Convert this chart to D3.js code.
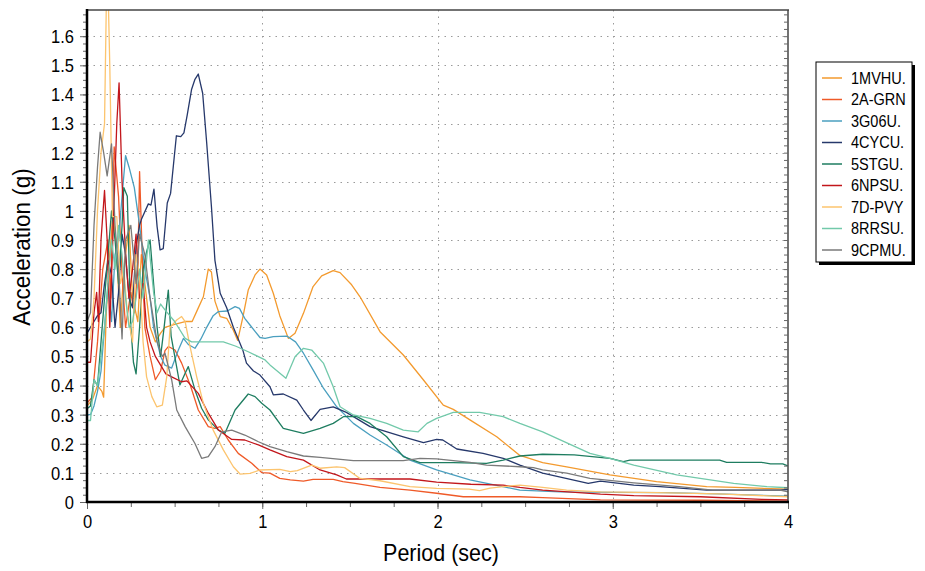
<!DOCTYPE html>
<html>
<head>
<meta charset="utf-8">
<script src="https://cdn.jsdelivr.net/npm/d3@7"></script>
<style>
  html, body { margin: 0; padding: 0; background: #fff; }
  svg { display: block; font-family: "Liberation Sans", Arial, sans-serif; }
</style>
</head>
<body>
<svg id="chart" width="925" height="571"></svg>
<script>
// ---------- DATA ----------
const seriesNames = ["1MVHU.", "2A-GRN", "3G06U.", "4CYCU.", "5STGU.", "6NPSU.", "7D-PVY", "8RRSU.", "9CPMU."];
const seriesColors = ["#f39a2e", "#ef5a28", "#4a9fbf", "#26386b", "#1e7d60", "#c2161b", "#fcc46e", "#72c9aa", "#7a7a7a"];

const xTicks = [0, 1, 2, 3, 4];
const yTicks = [0, 0.1, 0.2, 0.3, 0.4, 0.5, 0.6, 0.7, 0.8, 0.9, 1, 1.1, 1.2, 1.3, 1.4, 1.5, 1.6];
const xDomain = [0, 4];
const yDomain = [0, 1.69];

const s1MVHU = [[0,0.33],[0.03,0.35],[0.06,0.40],[0.085,0.38],[0.095,0.36],[0.11,0.65],[0.13,0.85],[0.15,1.0],[0.17,0.85],[0.19,0.6],[0.21,0.8],[0.24,0.95],[0.26,0.7],[0.29,0.62],[0.31,0.85],[0.33,0.75],[0.36,0.6],[0.39,0.55],[0.42,0.58],[0.445,0.6],[0.50,0.61],[0.56,0.62],[0.60,0.62],[0.63,0.66],[0.664,0.705],[0.692,0.80],[0.71,0.79],[0.73,0.69],[0.76,0.637],[0.797,0.631],[0.835,0.59],[0.86,0.555],[0.89,0.637],[0.92,0.728],[0.959,0.78],[0.987,0.80],[1.025,0.78],[1.063,0.717],[1.10,0.64],[1.149,0.562],[1.187,0.58],[1.235,0.648],[1.29,0.74],[1.339,0.777],[1.405,0.795],[1.444,0.788],[1.51,0.746],[1.558,0.705],[1.672,0.585],[1.805,0.505],[1.92,0.419],[2.033,0.333],[2.09,0.318],[2.185,0.282],[2.338,0.224],[2.47,0.16],[2.60,0.135],[2.737,0.121],[2.984,0.093],[3.25,0.07],[3.536,0.053],[3.7,0.05],[4.0,0.044]];
const s2AGRN = [[0,0.34],[0.03,0.36],[0.06,0.55],[0.09,0.8],[0.12,0.9],[0.135,0.7],[0.155,1.22],[0.18,1.05],[0.2,0.78],[0.22,0.6],[0.25,0.72],[0.27,0.65],[0.29,0.8],[0.30,1.135],[0.315,0.85],[0.33,0.6],[0.36,0.5],[0.39,0.42],[0.42,0.45],[0.445,0.52],[0.464,0.534],[0.502,0.522],[0.54,0.477],[0.59,0.40],[0.635,0.316],[0.692,0.259],[0.73,0.253],[0.76,0.259],[0.806,0.213],[0.863,0.167],[0.94,0.133],[0.997,0.101],[1.044,0.099],[1.10,0.081],[1.16,0.076],[1.235,0.072],[1.29,0.078],[1.405,0.078],[1.46,0.07],[1.53,0.064],[1.672,0.05],[1.843,0.041],[1.995,0.03],[2.147,0.018],[2.47,0.018],[2.6,0.015],[2.93,0.007],[3.5,0.006],[4.0,0.003]];
const s3G06U = [[0,0.30],[0.02,0.30],[0.04,0.33],[0.06,0.38],[0.08,0.45],[0.1,0.6],[0.12,0.75],[0.14,0.62],[0.16,0.85],[0.18,0.9],[0.2,1.05],[0.22,1.19],[0.24,1.15],[0.27,1.08],[0.3,0.95],[0.33,0.8],[0.36,0.7],[0.38,0.6],[0.4,0.55],[0.42,0.5],[0.445,0.47],[0.483,0.46],[0.52,0.52],[0.55,0.562],[0.58,0.54],[0.616,0.528],[0.65,0.56],[0.683,0.60],[0.72,0.64],[0.75,0.654],[0.80,0.656],[0.845,0.671],[0.87,0.665],[0.9,0.631],[0.93,0.608],[0.96,0.585],[0.987,0.565],[1.016,0.562],[1.063,0.568],[1.14,0.57],[1.19,0.55],[1.235,0.511],[1.29,0.454],[1.35,0.39],[1.425,0.327],[1.52,0.27],[1.615,0.23],[1.71,0.196],[1.843,0.144],[1.995,0.11],[2.185,0.076],[2.47,0.041],[2.7,0.035],[3.0,0.033],[3.3,0.032],[3.6,0.028],[4.0,0.02]];
const s4CYCU = [[0,0.58],[0.02,0.60],[0.04,0.62],[0.06,0.64],[0.08,0.65],[0.1,0.75],[0.12,0.83],[0.14,0.78],[0.16,0.6],[0.18,0.72],[0.2,0.92],[0.22,0.85],[0.24,0.7],[0.26,0.667],[0.28,0.88],[0.30,0.95],[0.31,0.97],[0.35,1.024],[0.365,1.02],[0.382,1.075],[0.40,0.946],[0.417,0.866],[0.435,0.87],[0.458,1.027],[0.477,1.06],[0.51,1.258],[0.535,1.255],[0.553,1.268],[0.572,1.33],[0.597,1.418],[0.616,1.452],[0.635,1.47],[0.66,1.404],[0.683,1.233],[0.71,1.015],[0.73,0.83],[0.76,0.717],[0.797,0.667],[0.835,0.60],[0.89,0.52],[0.91,0.477],[0.95,0.45],[0.987,0.436],[1.044,0.396],[1.063,0.368],[1.12,0.371],[1.197,0.35],[1.235,0.316],[1.278,0.28],[1.33,0.318],[1.405,0.327],[1.48,0.308],[1.615,0.259],[1.805,0.224],[1.92,0.204],[1.995,0.215],[2.03,0.213],[2.11,0.182],[2.26,0.167],[2.375,0.15],[2.47,0.127],[2.60,0.099],[2.86,0.064],[2.93,0.072],[3.12,0.058],[3.27,0.053],[3.536,0.041],[3.955,0.041],[4.0,0.043]];
const s5STGU = [[0,0.32],[0.02,0.33],[0.04,0.42],[0.06,0.40],[0.08,0.55],[0.1,0.7],[0.12,0.85],[0.14,1.0],[0.16,0.9],[0.18,0.75],[0.2,0.95],[0.21,1.08],[0.23,1.05],[0.25,0.6],[0.265,0.48],[0.28,0.44],[0.30,0.6],[0.32,0.8],[0.34,0.86],[0.36,0.9],[0.38,0.75],[0.40,0.6],[0.42,0.5],[0.44,0.6],[0.464,0.728],[0.48,0.57],[0.53,0.402],[0.56,0.442],[0.578,0.465],[0.616,0.385],[0.654,0.322],[0.692,0.282],[0.75,0.247],[0.787,0.236],[0.845,0.316],[0.92,0.371],[0.959,0.362],[0.997,0.339],[1.044,0.316],[1.12,0.253],[1.235,0.236],[1.33,0.253],[1.405,0.27],[1.463,0.293],[1.54,0.293],[1.615,0.27],[1.71,0.224],[1.805,0.156],[1.9,0.135],[2.09,0.135],[2.28,0.133],[2.375,0.144],[2.47,0.158],[2.6,0.164],[2.78,0.162],[2.984,0.15],[3.06,0.139],[3.098,0.144],[3.61,0.144],[3.65,0.136],[3.85,0.136],[3.9,0.131],[3.97,0.131],[4.0,0.124]];
const s6NPSU = [[0,0.48],[0.02,0.48],[0.04,0.65],[0.055,0.72],[0.065,0.62],[0.08,0.9],[0.1,1.07],[0.115,0.9],[0.13,0.6],[0.15,0.95],[0.17,1.3],[0.183,1.44],[0.2,1.1],[0.22,0.85],[0.24,0.7],[0.26,0.8],[0.28,0.92],[0.3,0.7],[0.32,0.75],[0.34,0.6],[0.36,0.55],[0.39,0.5],[0.42,0.47],[0.45,0.44],[0.483,0.43],[0.54,0.413],[0.57,0.416],[0.635,0.373],[0.692,0.305],[0.75,0.247],[0.826,0.215],[0.9,0.213],[0.978,0.196],[1.044,0.179],[1.14,0.156],[1.235,0.144],[1.33,0.11],[1.425,0.093],[1.48,0.079],[1.843,0.079],[1.995,0.068],[2.19,0.061],[2.375,0.058],[2.47,0.05],[2.6,0.041],[2.93,0.027],[3.12,0.022],[3.5,0.018],[3.85,0.009],[4.0,0.007]];
const s7DPVY = [[0,0.55],[0.02,0.56],[0.04,0.7],[0.06,1.0],[0.08,1.2],[0.1,1.3],[0.115,1.9],[0.13,1.5],[0.145,0.98],[0.17,0.98],[0.19,0.75],[0.21,0.8],[0.23,0.65],[0.26,0.55],[0.28,0.85],[0.3,0.78],[0.32,0.55],[0.34,0.43],[0.37,0.362],[0.398,0.327],[0.43,0.333],[0.455,0.43],[0.474,0.60],[0.512,0.625],[0.54,0.637],[0.56,0.62],[0.588,0.534],[0.626,0.43],[0.664,0.339],[0.72,0.247],[0.778,0.179],[0.835,0.121],[0.873,0.096],[0.93,0.098],[0.987,0.11],[1.10,0.112],[1.16,0.104],[1.2,0.108],[1.282,0.127],[1.33,0.116],[1.425,0.121],[1.47,0.118],[1.558,0.081],[1.672,0.073],[1.843,0.053],[1.995,0.047],[2.18,0.044],[2.24,0.039],[2.3,0.048],[2.375,0.053],[2.47,0.058],[2.6,0.05],[2.737,0.041],[2.93,0.035],[3.25,0.032],[3.6,0.028],[4.0,0.018]];
const s8RRSU = [[0,0.28],[0.02,0.28],[0.04,0.42],[0.06,0.40],[0.08,0.5],[0.1,0.6],[0.12,0.75],[0.14,0.9],[0.16,0.8],[0.18,0.95],[0.2,0.85],[0.22,0.7],[0.24,0.6],[0.26,0.62],[0.28,0.7],[0.3,0.8],[0.32,0.7],[0.35,0.9],[0.38,0.72],[0.4,0.65],[0.42,0.68],[0.445,0.66],[0.5,0.62],[0.56,0.562],[0.597,0.55],[0.70,0.55],[0.778,0.55],[0.85,0.535],[0.92,0.516],[1.016,0.488],[1.044,0.471],[1.135,0.425],[1.187,0.499],[1.235,0.528],[1.282,0.522],[1.35,0.476],[1.405,0.396],[1.444,0.327],[1.52,0.299],[1.615,0.287],[1.71,0.27],[1.805,0.247],[1.89,0.241],[1.94,0.27],[1.995,0.287],[2.09,0.308],[2.24,0.308],[2.375,0.293],[2.47,0.27],[2.60,0.241],[2.87,0.167],[2.984,0.15],[3.12,0.127],[3.365,0.093],[3.69,0.064],[3.88,0.053],[4.0,0.049]];
const s9CPMU = [[0,0.62],[0.02,0.65],[0.04,0.95],[0.06,1.15],[0.075,1.27],[0.095,1.2],[0.115,1.12],[0.14,1.23],[0.16,0.95],[0.18,0.8],[0.2,0.56],[0.22,0.9],[0.25,0.95],[0.28,0.75],[0.30,0.92],[0.33,0.85],[0.36,0.7],[0.4,0.55],[0.43,0.5],[0.445,0.511],[0.483,0.42],[0.512,0.316],[0.56,0.259],[0.616,0.201],[0.654,0.15],[0.692,0.156],[0.73,0.19],[0.769,0.241],[0.826,0.247],[0.90,0.23],[0.978,0.207],[1.044,0.19],[1.14,0.173],[1.235,0.158],[1.33,0.153],[1.52,0.142],[1.805,0.142],[1.9,0.15],[1.995,0.148],[2.185,0.136],[2.28,0.127],[2.47,0.121],[2.547,0.118],[2.6,0.11],[2.737,0.099],[2.87,0.081],[3.12,0.066],[3.38,0.053],[3.57,0.041],[3.955,0.041],[4.0,0.035]];

const seriesData = [s1MVHU, s2AGRN, s3G06U, s4CYCU, s5STGU, s6NPSU, s7DPVY, s8RRSU, s9CPMU];

// ---------- CHART ----------
const svg = d3.select("#chart");
const plot = { left: 87, right: 788, top: 10, bottom: 502 };
const x = d3.scaleLinear().domain(xDomain).range([plot.left, plot.right]);
const y = d3.scaleLinear().domain(yDomain).range([plot.bottom, plot.top]);

svg.append("defs").append("clipPath").attr("id", "clip")
  .append("rect").attr("x", plot.left).attr("y", plot.top)
  .attr("width", plot.right - plot.left).attr("height", plot.bottom - plot.top);

// gridlines
const grid = svg.append("g");
grid.selectAll("line.gy").data(yTicks.filter(d => d > 0)).join("line")
  .attr("x1", plot.left).attr("x2", plot.right)
  .attr("y1", d => Math.round(y(d)) + 0.5).attr("y2", d => Math.round(y(d)) + 0.5)
  .attr("stroke", "#9a9a9a").attr("stroke-width", 1).attr("stroke-dasharray", "1.5,5");
grid.selectAll("line.gx").data(xTicks.filter(d => d > 0 && d < 4)).join("line")
  .attr("y1", plot.top).attr("y2", plot.bottom)
  .attr("x1", d => Math.round(x(d)) + 0.5).attr("x2", d => Math.round(x(d)) + 0.5)
  .attr("stroke", "#9a9a9a").attr("stroke-width", 1).attr("stroke-dasharray", "1.5,5");

// lines
const line = d3.line().x(d => x(d[0])).y(d => y(d[1]));
const lines = svg.append("g").attr("clip-path", "url(#clip)");
seriesData.forEach((s, i) => {
  lines.append("path").datum(s).attr("d", line)
    .attr("fill", "none").attr("stroke", seriesColors[i])
    .attr("stroke-width", 1.3).attr("stroke-linejoin", "round");
});

// frame: top/right thin
svg.append("line").attr("x1", plot.left).attr("x2", plot.right + 1).attr("y1", plot.top).attr("y2", plot.top)
  .attr("stroke", "#444").attr("stroke-width", 1.5);
svg.append("line").attr("x1", plot.right).attr("x2", plot.right).attr("y1", plot.top).attr("y2", plot.bottom)
  .attr("stroke", "#444").attr("stroke-width", 1.5);

// axes
const yMinor = d3.range(0, 1.69, 0.025);
const xMinor = d3.range(0, 4.001, 0.25);

const yAxis = svg.append("g").attr("transform", `translate(${plot.left},0)`)
  .call(d3.axisLeft(y).tickValues(yTicks).tickSize(7).tickFormat(d3.format("~g")));
yAxis.select(".domain").remove();
yAxis.selectAll("text")
  .attr("font-size", 16.5).attr("fill", "#000").attr("font-family", "Liberation Sans, Arial, sans-serif")
  .attr("x", 0).attr("dy", null).attr("dominant-baseline", "central")
  .attr("transform", "translate(-13,0) scale(1,1.15)");
yAxis.selectAll(".tick line").attr("stroke", "#666");
svg.append("g").attr("transform", `translate(${plot.left},0)`)
  .call(d3.axisLeft(y).tickValues(yMinor).tickSize(4).tickFormat(""))
  .call(g => g.select(".domain").remove())
  .selectAll("line").attr("stroke", "#666");
// right inward ticks
svg.append("g").attr("transform", `translate(${plot.right},0)`)
  .call(d3.axisLeft(y).tickValues(yMinor).tickSize(4).tickFormat(""))
  .call(g => g.select(".domain").remove())
  .selectAll("line").attr("stroke", "#666");

const xAxis = svg.append("g").attr("transform", `translate(0,${plot.bottom})`)
  .call(d3.axisBottom(x).tickValues(xTicks).tickSize(7).tickFormat(d3.format("d")));
xAxis.select(".domain").remove();
xAxis.selectAll("text")
  .attr("font-size", 16.5).attr("fill", "#000").attr("font-family", "Liberation Sans, Arial, sans-serif")
  .attr("y", 0).attr("dy", null).attr("dominant-baseline", "central")
  .attr("transform", "translate(0,20) scale(1,1.15)");
xAxis.selectAll(".tick line").attr("stroke", "#666");
svg.append("g").attr("transform", `translate(0,${plot.bottom})`)
  .call(d3.axisBottom(x).tickValues(xMinor).tickSize(5).tickFormat(""))
  .call(g => g.select(".domain").remove())
  .selectAll("line").attr("stroke", "#666");

// thick left / bottom axis lines
svg.append("line").attr("x1", plot.left).attr("x2", plot.left).attr("y1", plot.top - 1).attr("y2", plot.bottom + 1)
  .attr("stroke", "#000").attr("stroke-width", 2.5);
svg.append("line").attr("x1", plot.left - 1).attr("x2", plot.right + 1).attr("y1", plot.bottom).attr("y2", plot.bottom)
  .attr("stroke", "#000").attr("stroke-width", 2.5);

// axis titles
svg.append("text")
  .attr("transform", `translate(441,553) scale(1,1.1)`)
  .attr("text-anchor", "middle").attr("dominant-baseline", "central").attr("font-size", 21.5).text("Period (sec)");
svg.append("text")
  .attr("transform", `translate(22,247) rotate(-90) scale(1,1.1)`)
  .attr("text-anchor", "middle").attr("dominant-baseline", "central").attr("font-size", 22.5).text("Acceleration (g)");

// legend
const lg = svg.append("g").attr("transform", "translate(816,62)");
lg.append("rect").attr("x", 3).attr("y", 3).attr("width", 96).attr("height", 200).attr("fill", "#000");
lg.append("rect").attr("x", 0).attr("y", 0).attr("width", 96).attr("height", 200)
  .attr("fill", "#fff").attr("stroke", "#000").attr("stroke-width", 1);
seriesNames.forEach((n, i) => {
  const yy = 16 + i * 21.5;
  lg.append("line").attr("x1", 6).attr("x2", 26).attr("y1", yy).attr("y2", yy)
    .attr("stroke", seriesColors[i]).attr("stroke-width", 1.5);
  lg.append("text").attr("transform", `translate(35,${yy}) scale(1,1.1)`)
    .attr("dominant-baseline", "central").attr("font-size", 14.5).text(n);
});
</script>
</body>
</html>
